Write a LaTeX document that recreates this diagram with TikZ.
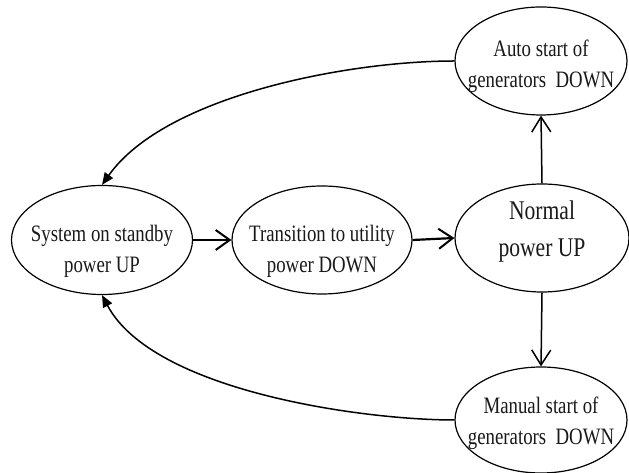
\documentclass[tikz,border=0pt]{standalone}
\usepackage{fontspec}
\newfontfamily\statefont[FakeStretch=0.80]{Liberation Serif}
\usetikzlibrary{shapes.geometric,arrows.meta}

\tikzset{
  statebox/.style={draw=black, line width=1.2bp, ellipse, inner sep=0pt},
  statetext/.style={font=\statefont\fontsize{23.5bp}{31bp}\selectfont, align=center, inner sep=0pt, text=black!90},
  bigtext/.style={font=\statefont\fontsize{27bp}{37bp}\selectfont, align=center, inner sep=0pt, text=black!90},
  flow/.style={line width=2.2bp, -{Straight Barb[length=14bp, width=20bp, line width=2bp]}},
  branch/.style={line width=1.5bp, -{Straight Barb[length=15bp, width=19bp, line width=1.5bp]}},
  back/.style={line width=1.5bp, -{Triangle[length=12bp, width=10bp]}}
}

\begin{document}
\begin{tikzpicture}[x=1bp, y=1bp]
  \useasboundingbox (0,0) rectangle (629,473);

  % states
  \node[statebox, minimum width=181bp, minimum height=109bp] (e1) at (102,233) {};
  \node[statebox, minimum width=180bp, minimum height=108bp] (e2) at (322,233) {};
  \node[statebox, minimum width=174bp, minimum height=108bp] (e3) at (542,235) {};
  \node[statebox, minimum width=172bp, minimum height=108bp] (e4) at (541,412) {};
  \node[statebox, minimum width=172bp, minimum height=106bp] (e5) at (541,53) {};

  % state labels
  \node[statetext] (t1) at (102,222) {System on standby\\power UP};
  \node[statetext] (t2) at (322,222) {Transition to utility\\power DOWN};
  \node[bigtext]   (t3) at (542,241) {Normal\\power UP};
  \node[statetext] (t4) at (541,407) {Auto start of\\generators\ \ DOWN};
  \node[statetext] (t5) at (541,50)  {Manual start of\\generators\ \ DOWN};

  % transitions
  \draw[flow] (e1.east) -- (e2.west);
  \draw[flow] (e2.east) -- (e3.west);
  \draw[branch] (e3.north) -- (e4.south);
  \draw[branch] (e3.south) -- (e5.north);
  \draw[back] (e4.west) .. controls +(-107,0) and +(63,89) .. (e1.north);
  \draw[back] (e5.west) .. controls +(-92,0) and +(51,-96) .. (e1.south);
\end{tikzpicture}
\end{document}
